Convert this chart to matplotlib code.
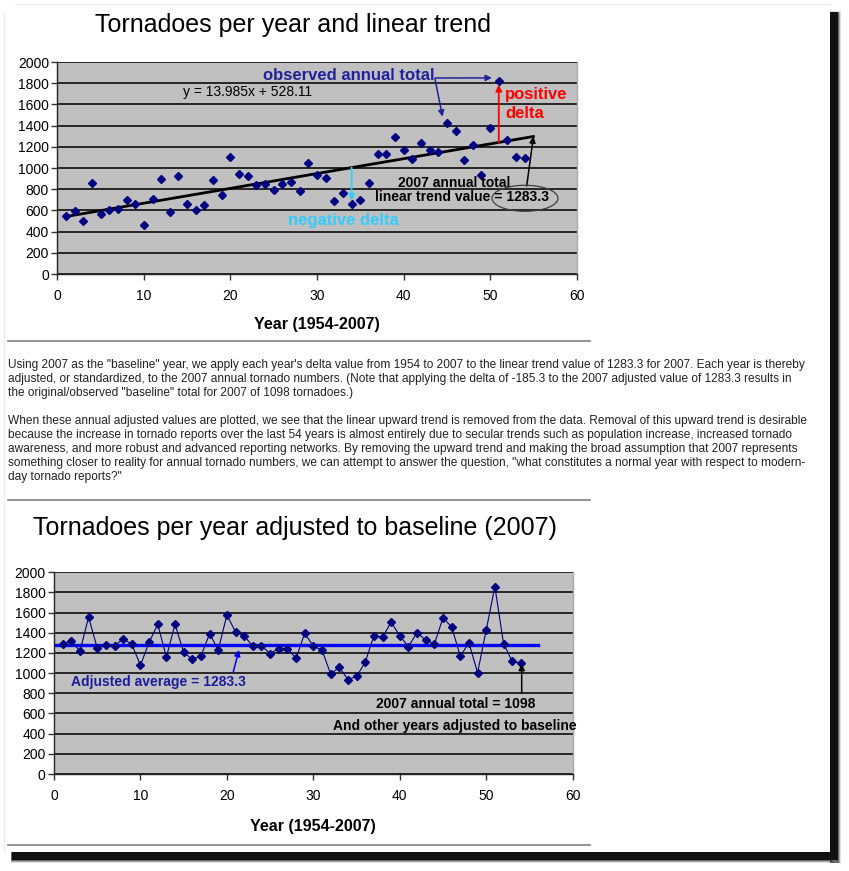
import matplotlib
matplotlib.use("Agg")
import matplotlib.pyplot as plt
from matplotlib.transforms import Affine2D
from matplotlib.patches import Ellipse, Rectangle
from matplotlib.lines import Line2D

plt.rcParams['font.family'] = ['Liberation Sans', 'DejaVu Sans']

# ---------------- data ----------------
years_idx = list(range(1, 55))  # 1954..2007 -> 1..54
observed = [550, 593, 504, 856, 564, 604, 616, 697, 657, 464,
            704, 897, 585, 926, 660, 608, 653, 888, 741, 1102,
            947, 920, 835, 852, 788, 852, 866, 783, 1046, 931,
            907, 684, 764, 656, 702, 856, 1133, 1132, 1297, 1173,
            1082, 1234, 1173, 1148, 1424, 1345, 1071, 1215, 934, 1374,
            1817, 1265, 1103, 1098]
adjusted = [1291, 1320, 1217, 1555, 1249, 1275, 1273, 1340, 1286, 1079,
            1305, 1484, 1158, 1485, 1205, 1139, 1170, 1391, 1231, 1577,
            1409, 1368, 1269, 1272, 1194, 1244, 1244, 1147, 1396, 1267,
            1229, 992, 1058, 936, 968, 1108, 1371, 1356, 1507, 1369,
            1264, 1402, 1327, 1288, 1550, 1457, 1169, 1299, 1004, 1430,
            1859, 1293, 1117, 1098]
trend_slope = 13.985
trend_intercept = 528.11
trend_x = [1, 55]
avg_value = 1283.3
avg_x = [0, 56]
x_ticks = [0, 10, 20, 30, 40, 50, 60]
y_ticks = [0, 200, 400, 600, 800, 1000, 1200, 1400, 1600, 1800, 2000]

W, H = 849, 871
fig = plt.figure(figsize=(W / 100, H / 100), dpi=100)
fig.patch.set_facecolor('white')
pix = Affine2D().scale(1 / W, -1 / H).translate(0, 1) + fig.transFigure


def px_axes(l, t, r, b):
    return fig.add_axes([l / W, 1 - b / H, (r - l) / W, (b - t) / H])


def style(ax, labelpad):
    ax.set_facecolor('#c0c0c0')
    ax.set_xlim(0, 60)
    ax.set_ylim(0, 2000)
    ax.set_xticks(x_ticks)
    ax.set_yticks(y_ticks)
    ax.grid(axis='y', color='#262626', lw=1.4)
    ax.grid(axis='x', visible=False)
    ax.set_axisbelow(True)
    for s in ['left', 'bottom']:
        ax.spines[s].set_color('#222222')
        ax.spines[s].set_linewidth(1.0)
    ax.spines['top'].set_visible(False)
    ax.spines['right'].set_color('#a8a8a8')
    ax.spines['right'].set_linewidth(1.0)
    ax.tick_params(direction='out', length=4, width=1, color='#333333',
                   labelsize=10, labelcolor='black')
    ax.tick_params(axis='y', pad=2)
    ax.tick_params(axis='x', pad=7)
    ax.set_xlabel('Year (1954-2007)', fontsize=11.5, fontweight='bold', labelpad=labelpad)


# ---------------- page, shadow, border ----------------
fig.add_artist(Line2D([4, 4], [13, 852], transform=pix, color='#ececec', lw=1))
fig.add_artist(Line2D([15, 830], [4, 4], transform=pix, color='#ececec', lw=1))
for i, a in enumerate([0.25, 0.5, 0.75]):
    d = 3 - i
    fig.add_artist(Rectangle((830, 11 - d + 3), 8 + d, 849 + d, transform=pix,
                             color='black', alpha=a * 0.5, lw=0))
    fig.add_artist(Rectangle((11, 852), 819 + d, 8 + d, transform=pix,
                             color='black', alpha=a * 0.5, lw=0))
fig.add_artist(Rectangle((830, 12), 8, 848, transform=pix, color='#111111', lw=0))
fig.add_artist(Rectangle((12, 852), 826, 8, transform=pix, color='#111111', lw=0))

# ---------------- titles ----------------
fig.text(293, 25, 'Tornadoes per year and linear trend', transform=pix,
         fontsize=18, ha='center', va='center')
fig.text(295, 528, 'Tornadoes per year adjusted to baseline (2007)', transform=pix,
         fontsize=18, ha='center', va='center')

# rules
for yy in [341, 500, 845]:
    fig.add_artist(Line2D([8, 590], [yy, yy], transform=pix, color='#808080', lw=1.2))

# paragraph text
para = [
    (365, 'Using 2007 as the "baseline" year, we apply each year\'s delta value from 1954 to 2007 to the linear trend value of 1283.3 for 2007. Each year is thereby'),
    (379, 'adjusted, or standardized, to the 2007 annual tornado numbers. (Note that applying the delta of -185.3 to the 2007 adjusted value of 1283.3 results in'),
    (393, 'the original/observed "baseline" total for 2007 of 1098 tornadoes.)'),
    (421, 'When these annual adjusted values are plotted, we see that the linear upward trend is removed from the data. Removal of this upward trend is desirable'),
    (435, 'because the increase in tornado reports over the last 54 years is almost entirely due to secular trends such as population increase, increased tornado'),
    (449, 'awareness, and more robust and advanced reporting networks. By removing the upward trend and making the broad assumption that 2007 represents'),
    (463, 'something closer to reality for annual tornado numbers, we can attempt to answer the question, "what constitutes a normal year with respect to modern-'),
    (477, 'day tornado reports?"'),
]
for yy, s in para:
    fig.text(8, yy, s, transform=pix, fontsize=8.6, color='#222222', ha='left', va='center')

# ---------------- top chart ----------------
ax1 = px_axes(57.3, 62, 576.7, 274)
style(ax1, labelpad=10)
trend_y = [trend_slope * v + trend_intercept for v in trend_x]
ax1.plot(trend_x, trend_y, color='black', lw=2.0, zorder=2)
ax1.plot(years_idx, observed, ls='none', marker='D', ms=4.5, color='#000080', zorder=3)

fig.text(263, 76, 'observed annual total', transform=pix, fontsize=12, fontweight='bold',
         color='#22229a', ha='left', va='center')
fig.text(183, 92, 'y = 13.985x + 528.11', transform=pix, fontsize=10, color='black',
         ha='left', va='center')
fig.text(505, 95, 'positive', transform=pix, fontsize=12, fontweight='bold',
         color='#ff0000', ha='left', va='center')
fig.text(505, 114, 'delta', transform=pix, fontsize=12, fontweight='bold',
         color='#ff0000', ha='left', va='center')
fig.text(288, 220, 'negative delta', transform=pix, fontsize=12, fontweight='bold',
         color='#33ccff', ha='left', va='center')
fig.text(454, 183, '2007 annual total', transform=pix, fontsize=10, fontweight='bold',
         color='black', ha='center', va='center')
fig.text(462, 197, 'linear trend value = 1283.3', transform=pix, fontsize=10, fontweight='bold',
         color='black', ha='center', va='center')
fig.add_artist(Ellipse((525, 198.3), 66, 26, transform=pix, fill=False,
                       ec='#404040', lw=0.9))

ap = dict(shrinkA=0, shrinkB=0, mutation_scale=9)
ax1.annotate('', xy=(50.2, 1850), xytext=(435, 78), textcoords=pix,
             arrowprops=dict(arrowstyle='-|>', color='#22229a', lw=1.1, **ap), annotation_clip=False)
ax1.annotate('', xy=(44.5, 1484), xytext=(435, 79), textcoords=pix,
             arrowprops=dict(arrowstyle='-|>', color='#22229a', lw=1.1, **ap), annotation_clip=False)
ax1.annotate('', xy=(51, 1786), xytext=(51, trend_slope * 51 + trend_intercept),
             arrowprops=dict(arrowstyle='-|>', color='#ff0000', lw=1.3, **ap))
ax1.annotate('', xy=(34, 690), xytext=(34, trend_slope * 34 + trend_intercept),
             arrowprops=dict(arrowstyle='-|>', color='#33ccff', lw=1.3, **ap))
ax1.annotate('', xy=(55, trend_slope * 55 + trend_intercept), xytext=(526.7, 186), textcoords=pix,
             arrowprops=dict(arrowstyle='-|>', color='black', lw=1.1, **ap), annotation_clip=False)

# ---------------- bottom chart ----------------
ax2 = px_axes(54, 572.3, 572.7, 774)
style(ax2, labelpad=11)
ax2.plot(avg_x, [avg_value, avg_value], color='#0000ff', lw=2.4, zorder=2)
ax2.plot(years_idx, adjusted, ls='-', lw=0.8, marker='D', ms=4.5, color='#000080', zorder=3)

fig.text(71, 682, 'Adjusted average = 1283.3', transform=pix, fontsize=10, fontweight='bold',
         color='#1c1c9c', ha='left', va='center')
fig.text(456, 704, '2007 annual total = 1098', transform=pix, fontsize=10, fontweight='bold',
         color='black', ha='center', va='center')
fig.text(455, 726, 'And other years adjusted to baseline', transform=pix, fontsize=10,
         fontweight='bold', color='black', ha='center', va='center')
ax2.annotate('', xy=(21.4, 1230), xytext=(233.3, 671.7), textcoords=pix,
             arrowprops=dict(arrowstyle='-|>', color='#0000ff', lw=1.1, **ap), annotation_clip=False)
ax2.annotate('', xy=(54.1, 1091), xytext=(521.7, 693), textcoords=pix,
             arrowprops=dict(arrowstyle='-|>', color='black', lw=1.1, **ap), annotation_clip=False)

fig.savefig('out.png', dpi=100, facecolor='white')
